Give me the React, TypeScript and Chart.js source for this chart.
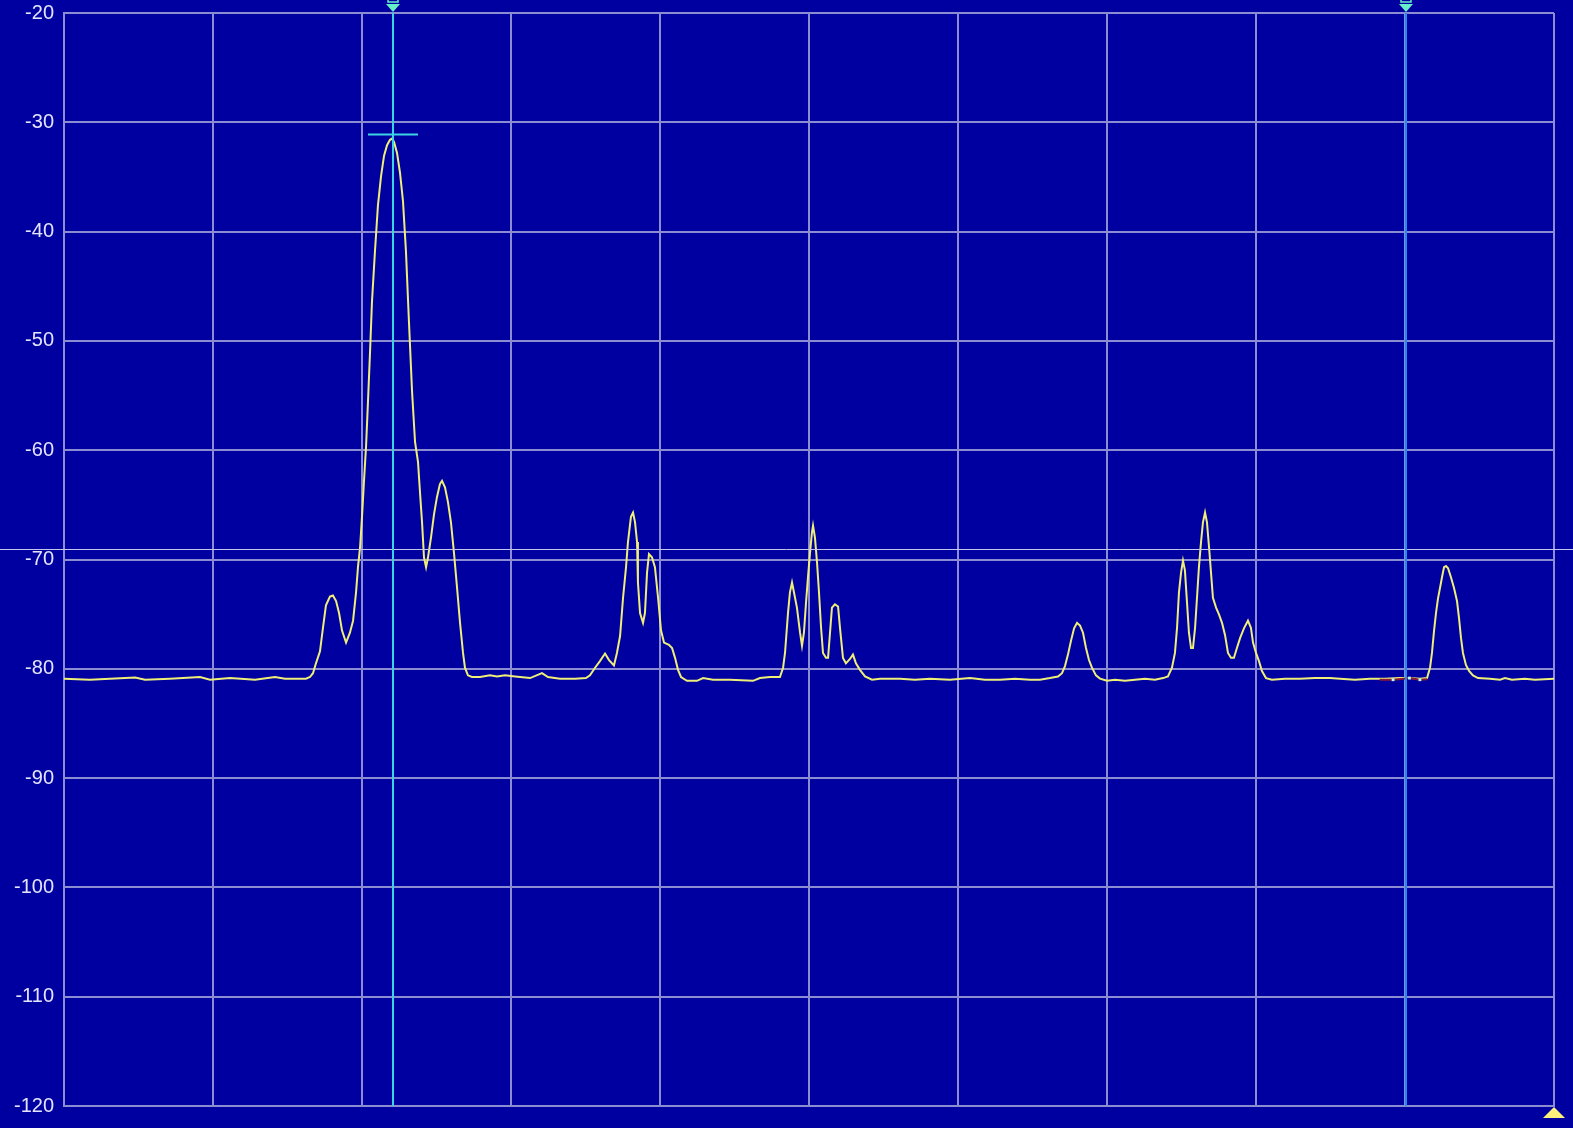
import { useEffect, useRef } from 'react';
import { Chart, registerables } from 'chart.js';

Chart.register(...registerables);

// ---- data ----
const yTickValues = [-20, -30, -40, -50, -60, -70, -80, -90, -100, -110, -120];
const xDivisions = [0, 10, 20, 30, 40, 50, 60, 70, 80, 90, 100];

// trace positions (percent of span) and levels (dBm)
const traceX = [
  0, 1.74, 3.09, 4.77, 5.44, 7.11, 9.13, 9.8, 11.14, 12.82, 14.16, 14.83, 16.24,
  16.51, 16.71, 16.91, 17.18, 17.38, 17.58, 17.85, 18.05, 18.26, 18.46, 18.66, 18.93, 19.19, 19.4, 19.6, 19.73, 19.87,
  20.0, 20.13, 20.27, 20.4, 20.54, 20.67, 20.87, 21.07, 21.28, 21.48, 21.68, 21.88, 22.01, 22.15, 22.35, 22.55, 22.75,
  22.95, 23.15, 23.36, 23.56, 23.76, 23.89, 24.03, 24.16, 24.3, 24.43, 24.63, 24.83, 25.03, 25.23, 25.37, 25.57, 25.77,
  25.97, 26.17, 26.38, 26.58, 26.78, 26.91, 27.11, 27.38, 27.92, 28.59, 29.06, 29.6, 30.27, 31.28, 32.08, 32.48, 33.29, 34.3,
  35.03, 35.3, 35.64, 35.97, 36.31, 36.58, 36.91, 37.11, 37.32, 37.52, 37.72, 37.85, 38.05, 38.19, 38.32, 38.46, 38.52,
  38.66, 38.86, 38.99, 39.13, 39.26, 39.46, 39.66, 39.87, 40.07, 40.27, 40.6, 40.81, 41.01, 41.21, 41.41, 41.81, 42.48, 42.89,
  43.56, 44.7, 46.24, 46.71, 47.38, 48.05, 48.26, 48.39, 48.59, 48.72, 48.86, 48.99, 49.19, 49.4, 49.53, 49.66, 49.8,
  49.93, 50.07, 50.2, 50.27, 50.4, 50.54, 50.67, 50.81, 50.94, 51.14, 51.28, 51.41, 51.54, 51.74, 51.95, 52.08, 52.28,
  52.48, 52.75, 52.95, 53.15, 53.42, 53.76, 54.23, 54.77, 56.11, 57.11, 58.12, 59.46, 60.81, 61.81, 62.82, 63.83, 64.83, 65.5,
  66.17, 66.71, 66.98, 67.18, 67.38, 67.58, 67.79, 67.99, 68.19, 68.39, 68.59, 68.79, 68.99, 69.26, 69.53, 70.0, 70.54, 71.21,
  71.88, 72.55, 73.22, 73.76, 74.09, 74.36, 74.56, 74.7, 74.83, 74.97, 75.1, 75.23, 75.37, 75.5, 75.64, 75.77, 75.91,
  76.04, 76.17, 76.31, 76.44, 76.58, 76.71, 76.85, 76.98, 77.11, 77.32, 77.52, 77.72, 77.92, 78.12, 78.32, 78.52, 78.72,
  78.93, 79.19, 79.46, 79.66, 79.8, 80.0, 80.2, 80.4, 80.67, 81.07, 81.95, 82.95, 83.96, 84.97, 85.64, 86.64, 87.65,
  88.66, 89.66, 90.34, 91.01, 91.48, 91.68, 91.81, 91.95, 92.08, 92.21, 92.35, 92.48, 92.62, 92.75, 92.89, 93.09, 93.29, 93.49,
  93.62, 93.76, 93.89, 94.09, 94.3, 94.56, 94.9, 95.7, 96.38, 96.71, 97.18, 98.05, 98.72, 100,
];
const traceY = [
  -80.9, -81.0, -80.9, -80.8, -81.0, -80.9, -80.75, -81.0, -80.85, -81.0, -80.75, -80.9, -80.9,
  -80.75, -80.4, -79.5, -78.4, -76.25, -74.2, -73.4, -73.3, -73.8, -74.9, -76.5, -77.6, -76.7, -75.6, -73.0, -70.7, -68.9,
  -66.1, -62.9, -59.7, -55.6, -51.0, -46.4, -41.8, -37.6, -34.9, -33.05, -32.1, -31.6, -31.5, -31.8, -32.8, -34.6, -37.2,
  -41.8, -48.2, -54.65, -59.25, -61.1, -63.8, -66.6, -69.8, -70.7, -69.8, -68.0, -65.9, -64.3, -63.1, -62.8, -63.4, -64.75,
  -66.6, -69.35, -72.6, -75.8, -78.55, -79.9, -80.6, -80.75, -80.75, -80.6, -80.7, -80.6, -80.7, -80.85, -80.4, -80.75, -80.9, -80.9,
  -80.85, -80.6, -79.9, -79.3, -78.6, -79.2, -79.7, -78.55, -77.0, -73.5, -70.7, -68.4, -66.1, -65.7, -66.55, -68.4, -72.1,
  -74.9, -75.8, -74.9, -71.2, -69.5, -69.8, -70.7, -73.5, -76.5, -77.6, -77.8, -78.1, -79.0, -80.1, -80.75, -81.1, -81.1, -80.85,
  -81.0, -81.0, -81.1, -80.85, -80.75, -80.75, -79.9, -78.55, -74.9, -73.0, -72.1, -73.0, -74.4, -76.7, -77.9, -76.7, -73.95,
  -71.65, -69.35, -67.5, -66.9, -68.0, -70.3, -73.0, -76.25, -78.55, -79.0, -79.0, -76.7, -74.4, -74.1, -74.3, -76.25, -79.0,
  -79.5, -79.1, -78.7, -79.5, -80.1, -80.7, -81.0, -80.9, -80.9, -81.0, -80.9, -81.0, -80.85, -81.0, -81.0, -80.9, -81.0, -81.0,
  -80.85, -80.7, -80.4, -79.75, -78.7, -77.45, -76.3, -75.8, -76.05, -76.7, -78.1, -79.2, -79.9, -80.6, -80.9, -81.1, -81.0, -81.1,
  -81.0, -80.9, -81.0, -80.85, -80.7, -79.9, -78.55, -76.25, -73.0, -71.2, -70.1, -71.0, -73.95, -76.7, -78.1, -78.1, -76.25,
  -73.5, -70.7, -68.4, -66.6, -65.7, -66.6, -68.9, -71.2, -73.5, -74.4, -75.05, -75.8, -76.9, -78.55, -79.0, -79.0, -78.1,
  -77.2, -76.3, -75.6, -76.25, -77.6, -78.55, -79.3, -80.2, -80.85, -81.0, -80.9, -80.9, -80.85, -80.85, -80.9, -81.0, -80.9,
  -80.9, -80.85, -80.85, -80.9, -80.85, -79.9, -78.55, -76.5, -74.9, -73.6, -72.6, -71.65, -70.7, -70.6, -70.8, -71.65, -72.6, -73.8,
  -75.3, -77.2, -78.55, -79.65, -80.2, -80.6, -80.85, -80.9, -81.0, -80.85, -81.0, -80.9, -81.0, -80.9,
];

// secondary (held) trace segment near marker 2
const auxX = [88.3, 89.2, 89.9, 90.3, 91.0, 91.5];
const auxY = [-81.0, -81.0, -80.9, -80.85, -81.0, -80.95];
const auxDotsX = [89.2, 90.3, 91.0];
const auxDotsY = [-81.0, -80.85, -81.0];

const markerPositions = [22.05, 90.07];
const markerColors = ['#3cd4e4', '#1e8cf0'];
const referenceLevel = -69.0;
const peakLevel = -31.1;
const peakSpan = [20.4, 23.76];

const BG = '#0000a0';
const GRID = '#8c8cd2';

const overlayPlugin = {
  id: 'overlay',
  afterDatasetsDraw(chart: any) {
    const { ctx, chartArea, scales } = chart;
    const xs = scales.x;
    const ys = scales.y;
    ctx.save();

    // reference level line across full canvas
    const ry = Math.round(ys.getPixelForValue(referenceLevel)) + 0.5;
    ctx.strokeStyle = '#c4c4ec';
    ctx.lineWidth = 1;
    ctx.beginPath();
    ctx.moveTo(0, ry);
    ctx.lineTo(chart.width, ry);
    ctx.stroke();

    // marker lines
    markerPositions.forEach((m, i) => {
      const px = Math.round(xs.getPixelForValue(m));
      ctx.strokeStyle = markerColors[i];
      ctx.lineWidth = 2;
      ctx.beginPath();
      ctx.moveTo(px, chartArea.top);
      ctx.lineTo(px, chartArea.bottom);
      ctx.stroke();

      // triangle at top
      ctx.fillStyle = '#66f0c8';
      ctx.beginPath();
      ctx.moveTo(px - 7, 4);
      ctx.lineTo(px + 7, 4);
      ctx.lineTo(px, 12);
      ctx.closePath();
      ctx.fill();
      // small label box (clipped by top edge)
      ctx.strokeStyle = '#66f0c8';
      ctx.lineWidth = 1.5;
      ctx.strokeRect(px - 5, -4, 10, 6);
    });

    // peak level marker
    const py = Math.round(ys.getPixelForValue(peakLevel)) + 0.5;
    ctx.strokeStyle = '#3cd4e4';
    ctx.lineWidth = 2;
    ctx.beginPath();
    ctx.moveTo(xs.getPixelForValue(peakSpan[0]), py);
    ctx.lineTo(xs.getPixelForValue(peakSpan[1]), py);
    ctx.stroke();

    // yellow triangle bottom right
    const bx = chartArea.right;
    const by = chartArea.bottom + 1;
    ctx.fillStyle = '#fff27a';
    ctx.beginPath();
    ctx.moveTo(bx, by);
    ctx.lineTo(bx + 11, by + 11);
    ctx.lineTo(bx - 11, by + 11);
    ctx.closePath();
    ctx.fill();

    ctx.restore();
  },
};

export default function App() {
  const canvasRef = useRef<HTMLCanvasElement | null>(null);

  useEffect(() => {
    document.body.style.margin = '0';
    document.body.style.background = BG;
    const canvas = canvasRef.current;
    if (!canvas) return;

    const tracePoints = traceX.map((x, i) => ({ x, y: traceY[i] }));
    const auxPoints = auxX.map((x, i) => ({ x, y: auxY[i] }));
    const dotPoints = auxDotsX.map((x, i) => ({ x, y: auxDotsY[i] }));

    const chart = new Chart(canvas, {
      type: 'line',
      data: {
        datasets: [
          {
            label: 'Trace',
            data: tracePoints,
            borderColor: '#eeee78',
            borderWidth: 2,
            pointRadius: 0,
            tension: 0,
            order: 2,
          },
          {
            label: 'Held',
            data: auxPoints,
            borderColor: '#8a1838',
            borderWidth: 2,
            pointRadius: 0,
            tension: 0,
            order: 1,
          },
          {
            label: 'Dots',
            data: dotPoints,
            showLine: false,
            pointStyle: 'rect',
            pointRadius: 2,
            pointBackgroundColor: '#b8fff0',
            pointBorderWidth: 0,
            order: 0,
          },
        ],
      },
      options: {
        responsive: false,
        animation: false,
        devicePixelRatio: 1,
        layout: { autoPadding: false, padding: { left: 0, top: 13, right: 19, bottom: 22 } },
        plugins: {
          legend: { display: false },
          tooltip: { enabled: false },
        },
        scales: {
          x: {
            type: 'linear',
            min: 0,
            max: 100,
            afterBuildTicks: (scale: any) => {
              scale.ticks = xDivisions.map((v) => ({ value: v }));
            },
            afterFit: (scale: any) => {
              scale.height = 0;
              scale.paddingLeft = 0;
              scale.paddingRight = 0;
            },
            ticks: { display: false },
            grid: { color: GRID, lineWidth: 2, drawTicks: false },
            border: { color: GRID, width: 2 },
          },
          y: {
            type: 'linear',
            min: -120,
            max: -20,
            afterBuildTicks: (scale: any) => {
              scale.ticks = yTickValues.map((v) => ({ value: v }));
            },
            afterFit: (scale: any) => {
              scale.width = 64;
              scale.paddingTop = 0;
              scale.paddingBottom = 0;
            },
            ticks: {
              color: '#e4e4ff',
              padding: 10,
              font: { family: 'Liberation Sans, Arial, sans-serif', size: 20 },
              callback: (v: any) => String(v),
            },
            grid: { color: GRID, lineWidth: 2, drawTicks: false },
            border: { color: GRID, width: 2 },
          },
        },
      },
      plugins: [overlayPlugin],
    });

    return () => chart.destroy();
  }, []);

  return (
    <div style={{ width: 1573, height: 1128, background: BG, overflow: 'hidden' }}>
      <canvas ref={canvasRef} width={1573} height={1128} style={{ display: 'block' }} />
    </div>
  );
}
